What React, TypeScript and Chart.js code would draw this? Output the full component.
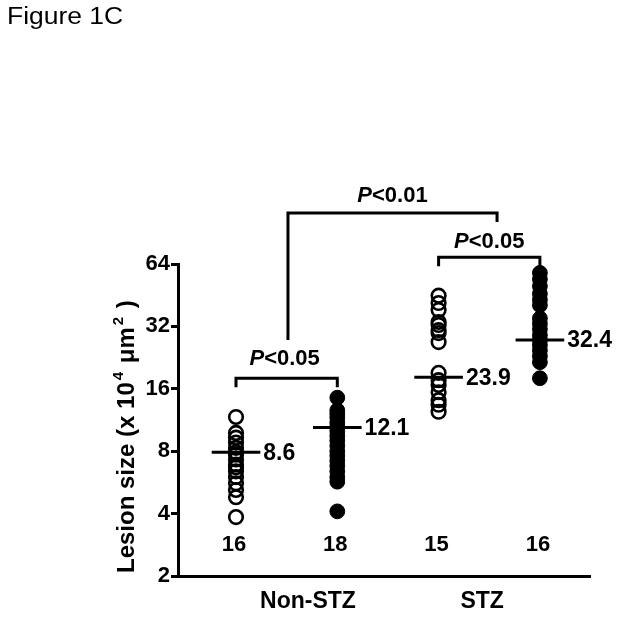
import React, { useEffect, useRef } from "react";
import { Chart, registerables } from "chart.js";

Chart.register(...registerables);

// ---- data ----
const groupPositions = [1, 2, 3, 4];
const groupCounts = ["16", "18", "15", "16"];
const nonStzOpen = [11.7, 9.8, 9.3, 8.8, 8.3, 7.9, 7.7, 7.3, 6.9, 6.7, 6.4, 6.0, 5.6, 5.2, 4.8, 3.85];
const nonStzFilled = [14.5, 12.6, 12.1, 11.6, 11.0, 10.5, 10.0, 9.5, 9.0, 8.5, 8.0, 7.6, 7.2, 6.8, 6.4, 6.0, 5.7, 4.1];
const stzOpen = [45, 41.5, 38.4, 33.6, 32.5, 30.7, 29.7, 26.9, 19.1, 17.6, 16.7, 15.4, 14.1, 13.4, 12.4];
const stzFilled = [58, 54, 50, 46, 43, 40.5, 35, 33, 31, 29, 27.5, 26, 24.5, 23, 21.5, 18];
const meanLinePositions = [7.9, 10.4, 18.2, 27.5];
const meanLabels = ["8.6", "12.1", "23.9", "32.4"];
const yTickValues = [2, 4, 8, 16, 32, 64];
const categoryLabels = ["Non-STZ", "STZ"];
const categoryTickPositions = [1.71, 3.43];
const bracketFrom = [1, 3, 1.513];
const bracketTo = [2, 4, 3.577];
const bracketLevels = [18.0, 69, 112.7];
const bracketLeftLegEnd = [null, null, 27.5];
const bracketLabels = ["<0.05", "<0.05", "<0.01"];
const bracketLabelGap = [13, 9, 11];

const FONT = "'Liberation Sans', Arial, Helvetica, sans-serif";

const annotationPlugin = {
  id: "annotations",
  afterDatasetsDraw(chart: any) {
    const { ctx, scales, chartArea } = chart;
    const xs = scales.x;
    const ys = scales.y;
    ctx.save();
    ctx.fillStyle = "#000";
    ctx.strokeStyle = "#000";

    // figure title
    ctx.save();
    ctx.translate(7, 24);
    ctx.scale(1.15, 1);
    ctx.font = `23px ${FONT}`;
    ctx.textAlign = "left";
    ctx.textBaseline = "alphabetic";
    ctx.fillText("Figure 1C", 0, 0);
    ctx.restore();

    // mean labels
    ctx.font = `bold 23px ${FONT}`;
    ctx.textAlign = "left";
    ctx.textBaseline = "middle";
    meanLinePositions.forEach((m, i) => {
      const px = xs.getPixelForValue(groupPositions[i] + 0.24) + 3;
      ctx.fillText(meanLabels[i], px, ys.getPixelForValue(m) + 1);
    });

    // counts
    ctx.font = `bold 22px ${FONT}`;
    ctx.textAlign = "center";
    groupCounts.forEach((c, i) => {
      ctx.fillText(c, xs.getPixelForValue(groupPositions[i]) - 2, chartArea.bottom - 31);
    });

    // brackets
    ctx.lineWidth = 3;
    ctx.lineCap = "butt";
    bracketLevels.forEach((lvl, i) => {
      const x1 = xs.getPixelForValue(bracketFrom[i]);
      const x2 = xs.getPixelForValue(bracketTo[i]);
      const y = ys.getPixelForValue(lvl);
      const leftEnd = bracketLeftLegEnd[i] != null ? ys.getPixelForValue(bracketLeftLegEnd[i] as number) : y + 9;
      ctx.beginPath();
      ctx.moveTo(x1, leftEnd);
      ctx.lineTo(x1, y);
      ctx.lineTo(x2, y);
      ctx.lineTo(x2, y + 9);
      ctx.stroke();
      const cx = (x1 + x2) / 2 - (i === 0 ? 2 : 0);
      ctx.font = `italic bold 22px ${FONT}`;
      const wP = ctx.measureText("P").width;
      ctx.font = `bold 22px ${FONT}`;
      const wR = ctx.measureText(bracketLabels[i]).width;
      const start = cx - (wP + wR) / 2;
      ctx.textAlign = "left";
      ctx.textBaseline = "alphabetic";
      ctx.font = `italic bold 22px ${FONT}`;
      ctx.fillText("P", start, y - bracketLabelGap[i]);
      ctx.font = `bold 22px ${FONT}`;
      ctx.fillText(bracketLabels[i], start + wP, y - bracketLabelGap[i]);
    });

    // y-axis title with superscripts
    ctx.translate(134, 573);
    ctx.rotate(-Math.PI / 2);
    ctx.textAlign = "left";
    ctx.textBaseline = "alphabetic";
    const parts: [string, boolean][] = [
      ["Lesion size (x 10", false],
      ["4", true],
      [" \u03bcm", false],
      ["2", true],
      [" )", false],
    ];
    let x = 0;
    parts.forEach(([t, sup]) => {
      ctx.font = sup ? `bold 15px ${FONT}` : `bold 24px ${FONT}`;
      if (sup) x += 2;
      ctx.fillText(t, x, sup ? -11 : 0);
      x += ctx.measureText(t).width + (sup ? 2 : 0);
    });
    ctx.restore();
  },
};

export default function App() {
  const ref = useRef<HTMLCanvasElement | null>(null);
  useEffect(() => {
    if (!ref.current) return;
    const mk = (vals: number[], g: number) => vals.map((v) => ({ x: g, y: v }));
    const openStyle = {
      type: "scatter" as const,
      pointStyle: "circle",
      pointRadius: 6.8,
      pointBorderWidth: 2.6,
      pointBackgroundColor: "rgba(0,0,0,0)",
      pointBorderColor: "#000",
      showLine: false,
    };
    const filledStyle = {
      type: "scatter" as const,
      pointStyle: "circle",
      pointRadius: 7.4,
      pointBorderWidth: 1,
      pointBackgroundColor: "#000",
      pointBorderColor: "#000",
      showLine: false,
    };
    const meanSets = meanLinePositions.map((m, i) => ({
      type: "line" as const,
      data: [
        { x: groupPositions[i] - 0.24, y: m },
        { x: groupPositions[i] + 0.24, y: m },
      ],
      borderColor: "#000",
      borderWidth: 3,
      pointRadius: 0,
      fill: false,
    }));
    const chart = new Chart(ref.current, {
      type: "scatter",
      data: {
        datasets: [
          { ...openStyle, data: mk(nonStzOpen, groupPositions[0]) },
          { ...filledStyle, data: mk(nonStzFilled, groupPositions[1]) },
          { ...openStyle, data: mk(stzOpen, groupPositions[2]) },
          { ...filledStyle, data: mk(stzFilled, groupPositions[3]) },
          ...meanSets,
        ] as any,
      },
      options: {
        responsive: false,
        animation: false,
        devicePixelRatio: 1,
        layout: { padding: { left: 108, top: 264, right: 34, bottom: 0 } },
        plugins: { legend: { display: false }, tooltip: { enabled: false }, title: { display: false } },
        scales: {
          x: {
            type: "linear",
            min: 0.4274,
            max: 4.4946,
            grid: { display: false },
            border: { display: true, color: "#000", width: 3 },
            afterBuildTicks: (scale: any) => {
              scale.ticks = categoryTickPositions.map((v) => ({ value: v }));
            },
            afterFit: (scale: any) => {
              scale.height = 44;
            },
            ticks: {
              autoSkip: false,
              maxRotation: 0,
              color: "#000",
              padding: 4,
              font: { family: FONT, size: 23, weight: "bold" },
              callback: (_v: any, i: number) => categoryLabels[i],
            },
          },
          y: {
            type: "logarithmic",
            min: 2,
            max: 64,
            grid: { drawOnChartArea: false, drawTicks: true, tickLength: 7, color: "#000", lineWidth: 3 },
            border: { display: true, color: "#000", width: 3 },
            afterBuildTicks: (scale: any) => {
              scale.ticks = yTickValues.map((v) => ({ value: v }));
            },
            afterFit: (scale: any) => {
              scale.width = 70;
            },
            ticks: {
              color: "#000",
              padding: 1,
              font: { family: FONT, size: 22, weight: "bold" },
              callback: (v: any) => String(v),
            },
          },
        },
      } as any,
      plugins: [annotationPlugin],
    });
    return () => chart.destroy();
  }, []);
  return (
    <div style={{ position: "fixed", left: 0, top: 0, width: 624, height: 620, background: "#fff" }}>
      <canvas ref={ref} width={624} height={620} style={{ width: 624, height: 620, display: "block" }} />
    </div>
  );
}
